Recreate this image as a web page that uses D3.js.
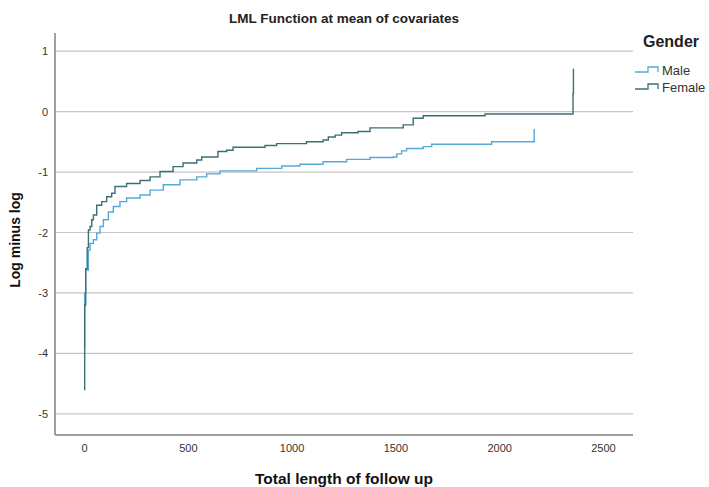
<!DOCTYPE html>
<html>
<head>
<meta charset="utf-8">
<script src="https://cdn.jsdelivr.net/npm/d3@7"></script>
<style>
  body { margin: 0; background: #fff; }
  text { font-family: "Liberation Sans", Arial, sans-serif; }
</style>
</head>
<body>
<div id="graph"></div>
<script>
// step points (time, log minus log)
var maleTime = [0, 3, 8, 21, 29, 45, 61, 77, 93, 117, 141, 173, 205, 270, 318, 382, 462, 543, 591, 655, 832, 952, 1040, 1152, 1265, 1378, 1490, 1507, 1530, 1554, 1634, 1675, 1964, 2169];
var maleLml = [-3.9, -3.0, -2.62, -2.29, -2.18, -2.12, -2.01, -1.9, -1.79, -1.66, -1.57, -1.49, -1.43, -1.38, -1.30, -1.21, -1.13, -1.08, -1.03, -0.98, -0.94, -0.90, -0.87, -0.83, -0.79, -0.76, -0.75, -0.70, -0.65, -0.61, -0.58, -0.54, -0.50, -0.29];

var femaleTime = [0, 3, 8, 15, 21, 29, 37, 45, 61, 85, 109, 133, 149, 205, 270, 318, 366, 429, 477, 543, 567, 645, 687, 718, 872, 928, 1072, 1152, 1177, 1210, 1241, 1320, 1378, 1538, 1586, 1634, 1932, 2356, 2358];
var femaleLml = [-4.6, -3.2, -2.6, -2.25, -1.96, -1.9, -1.79, -1.71, -1.55, -1.49, -1.41, -1.35, -1.24, -1.19, -1.14, -1.08, -0.99, -0.91, -0.85, -0.80, -0.75, -0.66, -0.64, -0.59, -0.56, -0.53, -0.50, -0.47, -0.42, -0.39, -0.35, -0.33, -0.27, -0.22, -0.11, -0.07, -0.04, 0.30, 0.71];

var xTicks = [0, 500, 1000, 1500, 2000, 2500];
var yTicks = [1, 0, -1, -2, -3, -4, -5];
var groups = ["Male", "Female"];
var colors = {Male: "#55a9d8", Female: "#3b7073"};

var svg = d3.select("#graph").append("svg")
  .attr("width", 709)
  .attr("height", 487);

var plotLeft = 55, plotRight = 633, plotTop = 33, plotBottom = 435;

var x = d3.scaleLinear().domain([-140, 2645]).range([plotLeft, plotRight]);
var y = d3.scaleLinear().domain([-5.35, 1.3]).range([plotBottom, plotTop]);

// gridlines
svg.append("g")
  .selectAll("line")
  .data(yTicks)
  .enter().append("line")
  .attr("x1", plotLeft)
  .attr("x2", plotRight)
  .attr("y1", function(d) { return y(d); })
  .attr("y2", function(d) { return y(d); })
  .style("stroke", "#c4c4c4")
  .style("stroke-width", 1.2);

// axes (plain hyphen for negatives, as in the original)
var plain = function(d) { return String(d); };
var xAxis = svg.append("g")
  .attr("transform", "translate(0," + plotBottom + ")")
  .call(d3.axisBottom(x).tickValues(xTicks).tickFormat(plain).tickSize(0).tickPadding(9));
var yAxis = svg.append("g")
  .attr("transform", "translate(" + plotLeft + ",0)")
  .call(d3.axisLeft(y).tickValues(yTicks).tickFormat(plain).tickSize(0).tickPadding(7));

[xAxis, yAxis].forEach(function(a) {
  a.select(".domain").style("stroke", "#a0a0a0").style("stroke-width", 2);
  a.selectAll("text").style("font-size", "11px").style("fill", "#333")
    .style("font-family", "'Liberation Sans', Arial, sans-serif");
});
xAxis.select(".domain").attr("d", "M" + plotLeft + ",0H" + plotRight);
yAxis.select(".domain").attr("d", "M0," + plotTop + "V" + plotBottom);

// step lines
var line = d3.line()
  .x(function(d) { return x(d[0]); })
  .y(function(d) { return y(d[1]); })
  .curve(d3.curveStepAfter);

var series = {
  Male: d3.zip(maleTime, maleLml),
  Female: d3.zip(femaleTime, femaleLml)
};

groups.forEach(function(g) {
  svg.append("path")
    .datum(series[g])
    .attr("d", line)
    .style("fill", "none")
    .style("stroke", colors[g])
    .style("stroke-width", 1.4);
});

// titles
svg.append("text")
  .attr("x", (plotLeft + plotRight) / 2)
  .attr("y", 23)
  .attr("text-anchor", "middle")
  .style("font-size", "13.5px")
  .style("font-weight", "bold")
  .style("fill", "#222")
  .text("LML Function at mean of covariates");

svg.append("text")
  .attr("x", (plotLeft + plotRight) / 2)
  .attr("y", 484)
  .attr("text-anchor", "middle")
  .style("font-size", "15.5px")
  .style("font-weight", "bold")
  .style("fill", "#111")
  .text("Total length of follow up");

svg.append("text")
  .attr("transform", "translate(20,240) rotate(-90)")
  .attr("text-anchor", "middle")
  .style("font-size", "14px")
  .style("font-weight", "bold")
  .style("fill", "#111")
  .text("Log minus log");

// legend
svg.append("text")
  .attr("x", 643)
  .attr("y", 47)
  .style("font-size", "16px")
  .style("font-weight", "bold")
  .style("fill", "#222")
  .text("Gender");

var legend = svg.append("g").selectAll("g")
  .data(groups)
  .enter().append("g")
  .attr("transform", function(d, i) { return "translate(635," + (72 + i * 17) + ")"; });

legend.append("path")
  .attr("d", "M0,0H13V-5H23V0")
  .style("fill", "none")
  .style("stroke", function(d) { return colors[d]; })
  .style("stroke-width", 1.3);

legend.append("text")
  .attr("x", 27)
  .attr("y", 3)
  .style("font-size", "13px")
  .style("fill", "#333")
  .text(function(d) { return d; });
</script>
</body>
</html>
